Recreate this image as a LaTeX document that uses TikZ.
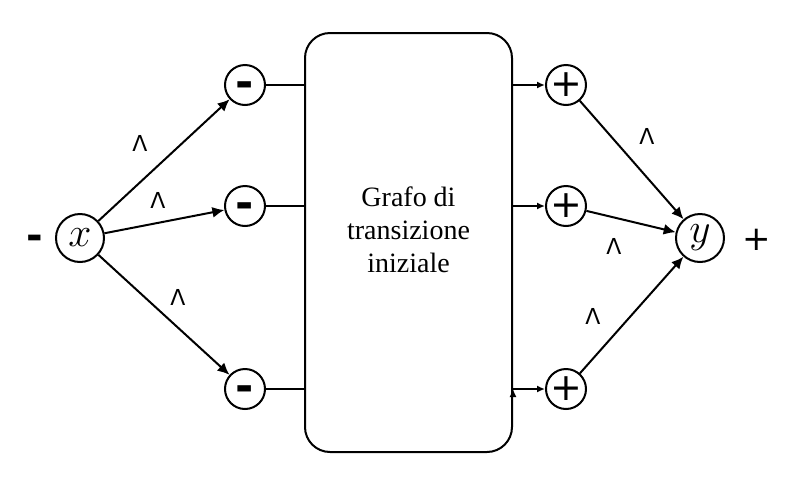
\documentclass[tikz,border=0pt]{standalone}
\usepackage{fontspec}
\setmainfont{Liberation Serif}
\newfontfamily\signfont{DejaVu Sans}
\usetikzlibrary{arrows.meta,positioning}

\begin{document}
\begin{tikzpicture}
		[x=0.5pt,y=-0.5pt,
		state/.style ={circle, draw=black, line width=1pt, inner sep=0pt, minimum size=24pt, font=\fontsize{20}{20}\selectfont},
		sign/.style ={circle, draw=black, line width=1pt, inner sep=0pt, minimum size=20pt, font=\signfont\fontsize{19}{19}\selectfont},
		block/.style ={rectangle, draw=black, line width=1pt, rounded corners=12.5pt, minimum width=103.5pt, minimum height=209.5pt},
		line/.style ={draw, line width=1pt, -{Latex[length=6pt,width=5.5pt]}},
		small/.style ={draw, line width=1pt, -{Latex[length=4pt,width=3.5pt]}},
		lambda/.style ={font=\signfont\fontsize{11}{11}\selectfont}]
		\useasboundingbox (0,0) rectangle (810,488);

		\node[state] (x) at (80,238) {$x$};
		\node[state] (y) at (700,238) {$y$};
		\node[font=\signfont\bfseries\fontsize{20}{20}\selectfont] (start) at (35,238) {\smash{\raisebox{-5.8pt}{-}}};
		\node[font=\signfont\fontsize{17}{17}\selectfont] (final) at (757,240) {+};

		\node[sign] (m1) at (245,85) {\bfseries\fontsize{22}{22}\selectfont\smash{\raisebox{-6.4pt}{-}}};
		\node[sign] (m2) at (245,206) {\bfseries\fontsize{22}{22}\selectfont\smash{\raisebox{-6.4pt}{-}}};
		\node[sign] (m3) at (245,389) {\bfseries\fontsize{22}{22}\selectfont\smash{\raisebox{-6.4pt}{-}}};
		\node[sign] (p1) at (566,85) {+};
		\node[sign] (p2) at (566,206) {+};
		\node[sign] (p3) at (566,389) {+};

		\node[block] (box) at (408.5,242.5) {};
		\node[align=center, font=\fontsize{14}{16.5}\selectfont] (caption) at (408.5,230) {Grafo di\\transizione\\iniziale};

		\path[line]
		(x) edge (m1)
		(x) edge (m2)
		(x) edge (m3)
		(p1) edge (y)
		(p2) edge (y)
		(p3) edge (y);

		\path[draw, line width=1pt]
		(m1) edge (m1 -| box.west)
		(m2) edge (m2 -| box.west)
		(m3) edge (m3 -| box.west);

		\path[small]
		(p1 -| box.east) edge (p1)
		(p2 -| box.east) edge (p2)
		(p3 -| box.east) edge (p3);

		\node[lambda] (l1) at (140,143) {Λ};
		\node[lambda] (l2) at (158,200) {Λ};
		\node[lambda] (l3) at (178,297) {Λ};
		\node[lambda] (l4) at (647,136) {Λ};
		\node[lambda] (l5) at (614,246) {Λ};
		\node[lambda] (l6) at (593,316) {Λ};

	\end{tikzpicture}
\end{document}
